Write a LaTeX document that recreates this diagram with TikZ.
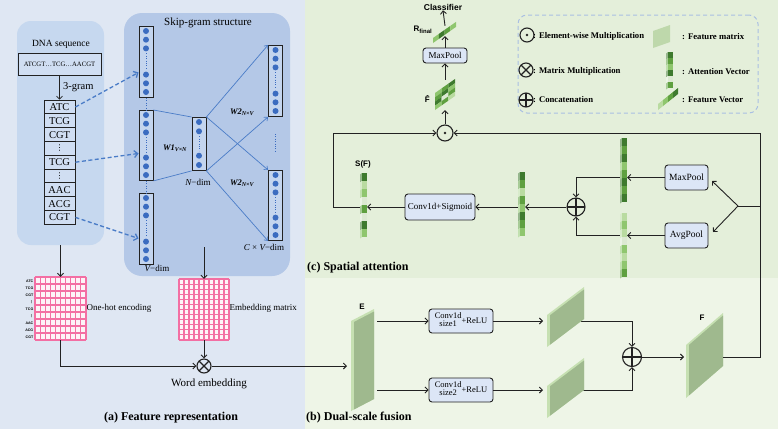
\documentclass[tikz,border=0pt]{standalone}
\usepackage{fontspec}
\setmainfont{Liberation Serif}
\setsansfont{Liberation Sans}
\newfontfamily\djv{DejaVu Sans}
\usetikzlibrary{arrows.meta,calc}

\definecolor{bgA}{HTML}{DFE7F3}
\definecolor{bgC}{HTML}{E4EFDA}
\definecolor{bgB}{HTML}{EEF5E7}
\definecolor{dnaP}{HTML}{C6D8EF}
\definecolor{sgP}{HTML}{B4C8E7}
\definecolor{vecF}{HTML}{C4D5EE}
\definecolor{kF}{HTML}{D0DEF2}
\definecolor{boxF}{HTML}{DCE6F6}
\definecolor{lineC}{HTML}{222222}
\definecolor{blueL}{HTML}{4A7CC7}
\definecolor{dotC}{HTML}{3B6CC0}
\definecolor{pinkC}{HTML}{F36FA3}
\definecolor{pinkF}{HTML}{FDF3F7}
\definecolor{legC}{HTML}{A9BFE3}
\definecolor{gD}{HTML}{3E7A2E}
\definecolor{gM}{HTML}{5FA040}
\definecolor{gL}{HTML}{8FC66E}
\definecolor{gP}{HTML}{B9DBA0}
\definecolor{gV}{HTML}{DCE9D2}
\definecolor{plL}{HTML}{C6E0B2}
\definecolor{plD}{HTML}{9FB98E}

\newcommand\fs[1]{\fontsize{#1}{#1}\selectfont}

% skip-gram vector: name, x centre, y top, y bottom, circles per end, spacing
\newcommand\cvec[6]{%
  \node[vecbox, minimum height={(#4-#3)*1pt}, anchor=north] (#1) at (#2,#3) {};
  \foreach \kk in {1,...,#5} {
    \fill[dotC] (#2, #3+\kk*#6-#6+5) circle (3pt);
    \fill[dotC] (#2, #4-\kk*#6+#6-5) circle (3pt);}
  \draw[dotC, line width=0.8pt, dash pattern=on 0.8pt off 1.6pt] (#2, #3+#5*#6-#6+10) -- (#2, #4-#5*#6+#6-10);
}
% vertical segmented bar: x, y top, segment height, colours
\newcommand\vbarseg[4]{%
  \foreach \gc [count=\ii from 0] in {#4} {
    \fill[\gc!55!white] (#1, #2+\ii*#3+1.5) -- (#1+2,#2+\ii*#3) -- (#1+2, #2+\ii*#3+#3) -- (#1, #2+\ii*#3+#3+1.5) -- cycle;
    \fill[\gc] (#1+2, #2+\ii*#3) rectangle (#1+7, #2+\ii*#3+#3);
  }}
% slanted bar: x1, y top-left, segment width, height, slant, colours
\newcommand\sbar[6]{%
  \begin{scope}[shift={(#1,#2)},yslant=#5]
    \foreach \gc [count=\ii from 0] in {#6} { \fill[\gc] (\ii*#3,0) rectangle (\ii*#3+#3,#4); }
  \end{scope}}
% plate: x1, y top-left, width, height, slant
\newcommand\plate[5]{%
  \begin{scope}[shift={(#1,#2)},yslant=#5]
    \fill[plL] (0,0) rectangle (#3,#4);
    \fill[plD] (3,2.5) rectangle (#3,#4);
  \end{scope}}

\begin{document}
\begin{tikzpicture}[x=1pt,y=-1pt,
  ln/.style={draw=lineC, line width=0.9pt},
  arr/.style={ln, -{Straight Barb[length=3pt,width=6pt]}},
  bline/.style={draw=blueL, line width=0.7pt},
  bluearr/.style={bline, -{Straight Barb[length=3pt,width=5pt]}},
  dasharr/.style={draw=blueL, line width=1.3pt, dash pattern=on 4pt off 2.5pt, -{Straight Barb[length=3.5pt,width=7pt]}},
  vecbox/.style={draw=lineC, line width=0.9pt, fill=vecF, minimum width=14pt, inner sep=0pt},
  kbox/.style={draw=lineC, line width=0.9pt, fill=kF, minimum width=31pt, minimum height=13.8pt, inner sep=0pt, font=\fs{10.5}},
  opbox/.style={draw=lineC, line width=0.9pt, fill=boxF, rounded corners=3pt, inner sep=0pt},
  sym/.style={circle, draw=lineC, line width=1.1pt, inner sep=0pt},
  oplus/.style={sym, path picture={\draw[lineC,line width=1.1pt] (path picture bounding box.north) -- (path picture bounding box.south) (path picture bounding box.west) -- (path picture bounding box.east);}},
  otimes/.style={sym, path picture={\draw[lineC,line width=1.1pt] (path picture bounding box.north west) -- (path picture bounding box.south east) (path picture bounding box.north east) -- (path picture bounding box.south west);}},
  odot/.style={sym, path picture={\fill[lineC] (path picture bounding box.center) circle (1.3pt);}},
  lbl/.style={inner sep=0pt},
  hid/.style={inner sep=0pt, minimum width=#1},
  ]
\useasboundingbox (0,0) rectangle (778,429);
% backgrounds
\fill[bgA] (0,0) rectangle (305,429);
\fill[bgC] (305,0) rectangle (778,278);
\fill[bgB] (305,278) rectangle (778,429);

% ---------- (a) ----------
\node[fill=dnaP, rounded corners=14pt, minimum width=87pt, minimum height=224pt, inner sep=0pt] (dnap) at (60.5,133) {};
\node[fill=sgP, rounded corners=18pt, minimum width=166pt, minimum height=263pt, inner sep=0pt] (sgp) at (207,144.5) {};
\node[lbl, font=\fs{9.5}] (dnat) at (61,44) {DNA sequence};
\node[lbl, font=\fs{11}] (sgt) at (208,23) {Skip-gram structure};
\node[draw=lineC, line width=0.9pt, fill=kF, minimum width=83pt, minimum height=22pt, inner sep=0pt, font=\fs{6.7}] (seq) at (59.5,64) {ATCGT…TCG…AACGT};
\foreach \t [count=\i from 0] in {ATC,TCG,CGT,{\djv\fs{8}⋮},TCG,{\djv\fs{8}⋮},AAC,ACG,CGT}
  \node[kbox] (k\i) at (59.5, 107+\i*13.8) {\t};
\draw[arr, line width=0.7pt] (seq.south) -- (k0.north);
\node[lbl, font=\fs{10.5}, anchor=west] (gram) at (63,87) {3-gram};

\cvec{in1}{146}{26}{97}{3}{8.7}
\cvec{in2}{146}{110}{180}{3}{8.7}
\cvec{in3}{146}{193}{264}{3}{8.7}
\cvec{hd}{199}{117}{170}{2}{9.3}
\cvec{out1}{275.5}{45}{116}{3}{8.7}
\cvec{out2}{275.5}{170}{240}{3}{8.7}
\draw[dotC, line width=0.8pt, dash pattern=on 0.8pt off 1.6pt] (in1.south) -- (in2.north) (in2.south) -- (in3.north);
\draw[dotC, line width=0.8pt, dash pattern=on 0.8pt off 1.6pt, shorten >=17pt, shorten <=17pt] (out1.south) -- (out2.north);

\draw[bline] (in2.north east) -- (hd.north west);
\draw[bline] (in2.south east) -- (hd.south west);
\draw[bluearr] (hd.north east) -- (out1.north west);
\draw[bluearr] (hd.north east) -- (out2.north west);
\draw[bluearr] (hd.south east) -- (out1.south west);
\draw[bluearr] (hd.south east) -- (out2.south west);

\draw[dasharr] (k0.east) -- ($(in1.west)+(0,10.5)$);
\draw[dasharr] (k4.east) -- ($(in2.west)+(0,8)$);
\draw[dasharr] (k8.east) -- ($(in3.west)+(0,9.5)$);

\node[lbl, font=\fs{8.5}] (w1) at (175,148) {\bfseries\itshape W1\textsubscript{V×N}};
\node[lbl, font=\fs{8.5}] (w2a) at (242,112) {\bfseries\itshape W2\textsubscript{N×V}};
\node[lbl, font=\fs{8.5}] (w2b) at (242,183) {\bfseries\itshape W2\textsubscript{N×V}};
\node[lbl, font=\fs{9}] (nd) at (198,182) {{\itshape N}−dim};
\node[lbl, font=\fs{9}] (vd) at (157,268) {{\itshape V}−dim};
\node[lbl, font=\fs{9}] (cvd) at (264,247) {{\itshape C} × {\itshape V}−dim};

% grids
\node[hid=51pt, minimum height=63pt, fill=pinkF] (oh) at (60.5,308.5) {};
\foreach \i in {0,...,10} \draw[pinkC, line width=1.1pt] (35+\i*5.1,277) -- (35+\i*5.1,340);
\foreach \j in {0,...,9} \draw[pinkC, line width=1.1pt] (35,277+\j*7) -- (86,277+\j*7);
\node[hid=50pt, minimum height=61pt, fill=pinkF] (emb) at (204,309.5) {};
\foreach \i in {0,...,10} \draw[pinkC, line width=1.1pt] (179+\i*5,279) -- (179+\i*5,340);
\foreach \j in {0,...,12} \draw[pinkC, line width=1.1pt] (179,279+\j*5.083) -- (229,279+\j*5.083);
\foreach \t [count=\i from 0] in {ATC,TCG,CGT,{\djv ⋮},TCG,{\djv ⋮},AAC,ACG,CGT}
  \node[lbl, font=\sffamily\bfseries\fs{3.6}, anchor=east] at (33.5, 281+\i*7) {\t};
\node[lbl, font=\fs{9}, anchor=west] (ohl) at (86.5,308) {One-hot encoding};
\node[lbl, font=\fs{9}, anchor=west] (embl) at (229.5,308) {Embedding matrix};

\coordinate (sgo) at (204,247);
\draw[arr] (dnap.south) -- (oh.north);
\draw[arr] (sgo) -- (emb.north);
\node[otimes, minimum size=14pt] (otim) at (204,366) {};
\draw[arr] (emb.south) -- (otim.north);
\draw[arr] (oh.south) |- (otim.west);
\node[lbl, font=\fs{11}] (we) at (209,384) {Word embedding};
\coordinate (Ein) at (347,366);
\draw[arr] (otim.east) -- (Ein);

\node[lbl, font=\bfseries\fs{12}] (ta) at (171,418) {(a) Feature representation};
\node[lbl, font=\bfseries\fs{12}, anchor=west] (tb) at (306,418) {(b) Dual-scale fusion};
\node[lbl, font=\bfseries\fs{12}, anchor=west] (tc) at (307,268) {(c) Spatial attention};

% ---------- (b) ----------
\node[opbox, minimum width=64pt, minimum height=24pt, font=\fs{8.5}] (cv1) at (461,321) {\begin{tabular}{@{}c@{}}Conv1d\\size1\end{tabular}+ReLU};
\node[opbox, minimum width=64pt, minimum height=24pt, font=\fs{8.5}] (cv2) at (461,390) {\begin{tabular}{@{}c@{}}Conv1d\\size2\end{tabular}+ReLU};
\coordinate (Eu) at (377,321);
\coordinate (El) at (377,390);
\draw[arr] (Eu) -- (cv1.west);
\draw[arr] (El) -- (cv2.west);
\coordinate (m1l) at (543,321);
\coordinate (m2l) at (543,390);
\draw[arr] (cv1.east) -- (m1l);
\draw[arr] (cv2.east) -- (m2l);
\node[oplus, minimum size=19pt] (op1) at (632,357) {};
\coordinate (m1r) at (581,321);
\coordinate (m2r) at (581,390);
\draw[arr] (m1r) -| (op1.north);
\draw[arr] (m2r) -| (op1.south);
\coordinate (Fl) at (684,357);
\draw[arr] (op1.east) -- (Fl);
\plate{351}{321}{23}{90}{0.52}
\plate{547}{315}{37}{32}{0.757}
\plate{547}{386}{37}{32}{0.757}
\plate{686}{345}{37}{53}{0.865}
\node[lbl, font=\sffamily\bfseries\fs{8}] (Elab) at (362,307) {E};
\node[lbl, font=\sffamily\bfseries\fs{8}] (Flab) at (702,318) {F};

% ---------- (c) ----------
\node[opbox, minimum width=43pt, minimum height=25pt, font=\fs{9.5}] (maxp) at (686.5,177.5) {MaxPool};
\node[opbox, minimum width=43pt, minimum height=25pt, font=\fs{9.5}] (avgp) at (686.5,235.5) {AvgPool};
\node[opbox, minimum width=70pt, minimum height=26pt, font=\fs{9}] (csig) at (440,207) {Conv1d+Sigmoid};
\node[oplus, minimum size=18pt] (op2) at (576,207) {};
\node[odot, minimum size=16pt] (odt) at (445,133) {};
\node[hid=7pt, minimum height=64pt] (mxv) at (623.5,170) {};
\node[hid=7pt, minimum height=64pt] (avv) at (623.5,245) {};
\node[hid=7pt, minimum height=64pt] (ccv) at (521.5,204) {};
\node[hid=7pt, minimum height=64pt] (sfv) at (363.5,205) {};

\coordinate (Fr) at (723,357);
\coordinate (cR) at (760,357);
\coordinate (cT) at (760,133);
\coordinate (bj) at (760,206);
\coordinate (br) at (738,206);
\coordinate (mxt) at (712,181);
\coordinate (avt) at (713,232);
\coordinate (lc) at (333,207);
\draw[arr] (Fr) -- (cR) -- (cT) -- (odt.east);
\draw[ln] (bj) -- (br);
\draw[arr] (br) -- (mxt);
\draw[arr] (br) -- (avt);
\draw[arr] (maxp.west) -- (maxp.west -| mxv.east);
\draw[arr] (avgp.west) -- (avgp.west -| avv.east);
\draw[arr] (maxp.west -| mxv.west) -| (op2.north);
\draw[arr] (avgp.west -| avv.west) -| (op2.south);
\draw[arr] (op2.west) -- (op2.west -| ccv.east);
\draw[arr] (op2.west -| ccv.west) -- (csig.east);
\draw[arr] (csig.west) -- (csig.west -| sfv.east);
\draw[arr] (csig.west -| sfv.center) -- (lc) |- (odt.west);

\vbarseg{620}{138}{8}{gD,gM,gD,gL,gM,gD,gM,gD}
\vbarseg{620}{213}{8}{gP,gL,gP,gV,gL,gP,gL,gM}
\vbarseg{518}{172}{8}{gD,gM,gP,gM,gL,gD,gM,gL}
\vbarseg{360}{173}{8}{gD,gP,gL,gV,gM,gV,gD,gL}
\node[lbl, font=\sffamily\bfseries\fs{8}] (sfl) at (363,164) {S(F)};

% top chain
\node[hid=20pt, minimum height=30pt] (fh) at (445,95) {};
\node[opbox, minimum width=44pt, minimum height=15pt, font=\fs{9}] (mp2) at (445,55.5) {MaxPool};
\node[hid=24pt, minimum height=10pt] (rf) at (445,31) {};
\node[lbl, font=\sffamily\bfseries\fs{8.5}] (cls) at (443,7) {Classifier};
\draw[arr] (odt.north) -- (fh.south);
\draw[arr] (fh.north) -- (mp2.south);
\draw[arr] (mp2.north) -- (rf.south);
\draw[arr] (rf.north) -- (cls.south);
\begin{scope}[shift={(435,93)},yslant=0.7]
  \foreach \row/\cols [count=\r from 0] in {0/{gL,gM,gD},1/{gM,gD,gL},2/{gD,gV,gM},3/{gL,gM,gP}}
    \foreach \gc [count=\q from 0] in \cols
      \fill[\gc] (\q*6.67,\r*4.25) rectangle (\q*6.67+6.67,\r*4.25+4.25);
\end{scope}
\sbar{433}{38}{5.75}{5}{0.7}{gL,gD,gM,gL}
\node[lbl, font=\sffamily\bfseries\fs{8}, anchor=east] (fhl) at (430,99) {\^{F}};
\node[lbl, font=\sffamily\bfseries\fs{8}] (rfl) at (423,30) {R\textsubscript{final}};

% legend
\node[draw=legC, line width=1pt, dash pattern=on 4pt off 3pt, rounded corners=9pt, minimum width=240pt, minimum height=98pt, inner sep=0pt] (leg) at (638,64) {};
\node[odot, minimum size=14pt] (l1) at (527,35) {};
\node[otimes, minimum size=14pt] (l2) at (526,70) {};
\node[oplus, minimum size=14pt] (l3) at (526,100) {};
\node[lbl, font=\bfseries\fs{8.7}, anchor=west] at (533,36) {: Element-wise Multiplication};
\node[lbl, font=\bfseries\fs{8.7}, anchor=west] at (533,71) {: Matrix Multiplication};
\node[lbl, font=\bfseries\fs{8.7}, anchor=west] at (533,100) {: Concatenation};
\begin{scope}[shift={(653,31)},yslant=0.35]
  \fill[plL!80!plD] (0,0) rectangle (17,17);
\end{scope}
\vbarseg{666}{52}{6}{gD,gM,gL,gD,gV,gM}
\sbar{658}{104}{5}{6}{0.8}{gP,gL,gM,gD}
\node[lbl, font=\bfseries\fs{8.7}, anchor=west] at (682,37) {: Feature matrix};
\node[lbl, font=\bfseries\fs{8.7}, anchor=west] at (682,72) {: Attention Vector};
\node[lbl, font=\bfseries\fs{8.7}, anchor=west] at (682,100) {: Feature Vector};
\end{tikzpicture}
\end{document}
